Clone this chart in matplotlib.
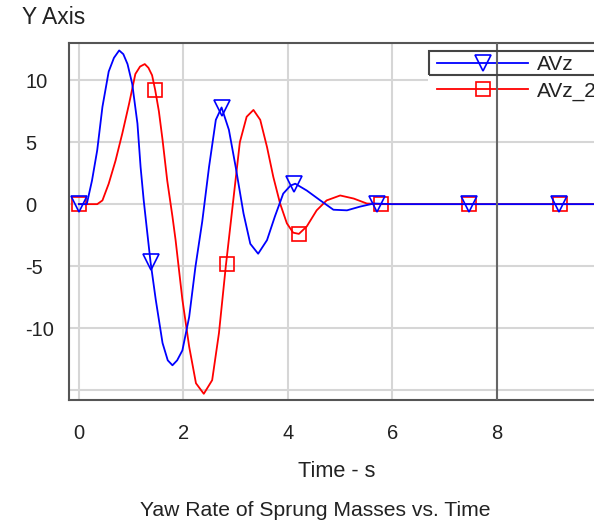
import numpy as np
import matplotlib.pyplot as plt
from matplotlib.patches import Rectangle

plt.rcParams['font.family'] = ['Liberation Sans', 'DejaVu Sans']

# AVz (blue) trace
t_avz = [0, 0.15, 0.25, 0.35, 0.45, 0.57, 0.67, 0.77, 0.85, 0.93, 1.02, 1.12, 1.18, 1.24, 1.3,
         1.37, 1.47, 1.6, 1.7, 1.79, 1.88, 1.98, 2.11, 2.23, 2.36, 2.49, 2.62, 2.73, 2.87, 3.0,
         3.15, 3.28, 3.43, 3.6, 3.75, 3.91, 4.05, 4.14, 4.36, 4.62, 4.87, 5.13, 5.38, 5.64, 6.0, 10.3]
avz = [0, 0, 1.9, 4.35, 7.85, 10.7, 11.8, 12.4, 12.1, 11.3, 9.7, 6.5, 3.0, 0.3, -2.0,
       -4.65, -7.7, -11.2, -12.6, -13.0, -12.6, -11.8, -9.1, -5.05, -1.4, 3.0, 6.8, 7.8, 6.0, 3.0,
       -0.75, -3.2, -4.0, -2.9, -1.0, 0.85, 1.5, 1.65, 1.1, 0.3, -0.45, -0.5, -0.2, 0.05, 0, 0]
mk_t_avz = [0, 1.37, 2.73, 4.12, 5.71, 7.47, 9.18]
mk_avz = [0, -4.7, 7.75, 1.65, 0, 0, 0]

# AVz_2 (red) trace
t_avz2 = [0, 0.35, 0.45, 0.57, 0.7, 0.83, 0.96, 1.08, 1.17, 1.26, 1.33, 1.4, 1.46, 1.53, 1.6,
          1.69, 1.79, 1.85, 1.98, 2.11, 2.24, 2.39, 2.55, 2.68, 2.81, 2.94, 3.08, 3.21, 3.34,
          3.47, 3.6, 3.72, 3.85, 3.98, 4.1, 4.21, 4.36, 4.55, 4.74, 5.0, 5.26, 5.51, 5.8, 10.3]
avz2 = [0, 0, 0.3, 1.65, 3.5, 5.7, 8.1, 10.5, 11.1, 11.3, 11.0, 10.4, 9.2, 7.5, 5.2,
        1.9, -1.0, -2.9, -7.7, -11.5, -14.45, -15.3, -14.2, -10.4, -5.05, -0.2, 5.0, 7.05, 7.6,
        6.8, 4.6, 2.2, 0.05, -1.55, -2.3, -2.4, -1.8, -0.5, 0.3, 0.7, 0.45, 0.05, 0, 0]
mk_t_avz2 = [0, 1.46, 2.83, 4.21, 5.79, 7.47, 9.2]
mk_avz2 = [0, 9.2, -4.8, -2.4, 0, 0, 0]

yticks = [-15, -10, -5, 0, 5, 10]
ylabels = ['', '-10', '-5', '0', '5', '10']
xticks = [0, 2, 4, 6, 8]

W, H = 594, 526
fig = plt.figure(figsize=(W / 100, H / 100), dpi=100)
x0, x1 = -0.19, 10.07
ax = fig.add_axes([69 / W, 1 - 400 / H, (x1 - x0) * 52.25 / W, 357 / H])
ax.set_xlim(x0, x1)
ax.set_ylim(-15.8, 13)

txt = '#222222'
ax.plot(t_avz2, avz2, color='red', lw=1.3, zorder=3)
ax.plot(mk_t_avz2, mk_avz2, ls='none', marker='s', ms=10, mfc='none', mec='red', mew=1.2, zorder=3)
ax.plot(t_avz, avz, color='blue', lw=1.3, zorder=4)
ax.plot(mk_t_avz, mk_avz, ls='none', marker='v', ms=11, mfc='none', mec='blue', mew=1.2, zorder=4)

ax.set_xticks(xticks)
ax.set_yticks(yticks)
ax.set_yticklabels(ylabels)
for lab in ax.get_yticklabels():
    lab.set_horizontalalignment('left')
ax.tick_params(axis='y', length=0, pad=31.5, labelsize=14.5, labelcolor=txt)
ax.tick_params(axis='x', length=0, pad=17, labelsize=14.5, labelcolor=txt)
ax.grid(True, color='#d6d6d6', lw=1.5, zorder=0)
for s in ['left', 'bottom', 'top']:
    ax.spines[s].set_color('#555555')
    ax.spines[s].set_linewidth(1.5)
ax.spines['right'].set_visible(False)
ax.axvline(8, color='#666666', lw=1.5, zorder=6)

h1, = ax.plot([], [], color='blue', lw=1.3, marker='v', ms=11, mfc='none', mec='blue', mew=1.2)
h2, = ax.plot([], [], color='red', lw=1.3, marker='s', ms=10, mfc='none', mec='red', mew=1.2)
leg = ax.legend([h1, h2], ['AVz', 'AVz_2'], loc='upper left',
                bbox_to_anchor=(428 / W, 1 - 46 / H), bbox_transform=fig.transFigure,
                fontsize=15, handlelength=4.35, handletextpad=0.43, labelspacing=0.35,
                borderpad=0.45, frameon=True, fancybox=False, framealpha=1,
                facecolor='white', edgecolor='none', borderaxespad=0)
leg.set_zorder(5)
for t in leg.get_texts():
    t.set_color(txt)
fig.patches.append(Rectangle((429 / W, 1 - 75 / H), 200 / W, 24 / H, transform=fig.transFigure,
                             fill=False, ec='#444444', lw=1.5, zorder=7))

fig.text(22 / W, 1 - 24 / H, 'Y Axis', fontsize=16.5, color=txt, ha='left', va='baseline')
ax.set_xlabel('Time - s', fontsize=15.7, color=txt, labelpad=13)
fig.text(315 / W, 1 - 510 / H, 'Yaw Rate of Sprung Masses vs. Time', fontsize=15.2,
         color=txt, ha='center', va='center')

fig.savefig('out.png', dpi=100)
